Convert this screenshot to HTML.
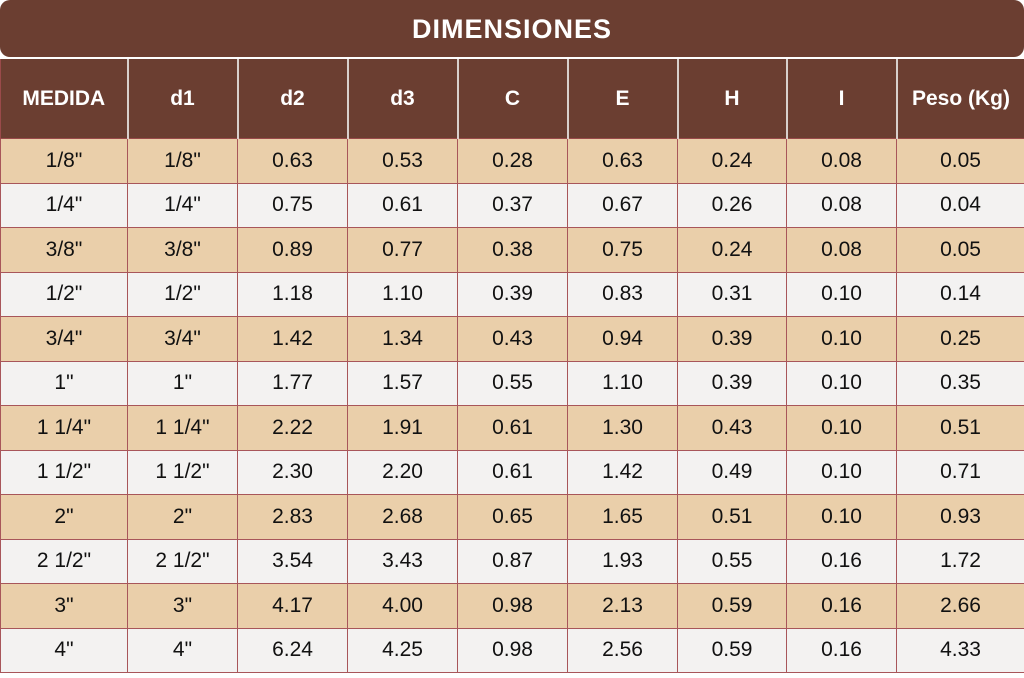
<!DOCTYPE html>
<html><head><meta charset="utf-8"><style>
html,body{margin:0;padding:0;background:#fff;width:1024px;height:678px;overflow:hidden}
.title{position:absolute;left:0;top:0;width:1024px;height:57px;background:#6b3e31;border-radius:10px 10px 10px 10px;color:#fff;font:bold 27px "Liberation Sans Narrow","Liberation Sans",sans-serif;text-align:center;line-height:58px;letter-spacing:1px}
table{position:absolute;left:0;top:59px;border-collapse:collapse;table-layout:fixed;width:1024px}
td,th{padding:0;text-align:center;font-family:"Liberation Sans",sans-serif}
th{background:#6b3e31;color:#fff;height:79px;font:bold 21px "Liberation Sans Narrow","Liberation Sans",sans-serif;border-left:2px solid #d8d0cc;border-bottom:1px solid #9a4a4a}
th:first-child{border-left:1px solid #9a4a4a}
td{height:43.5px;font-size:21px;color:#111;border:1px solid #a8565a}
tr:nth-child(even) td{background:#eacfaa}
tr:nth-child(odd) td{background:#f3f2f1}
</style></head><body>
<div class="title">DIMENSIONES</div>
<table>
<colgroup><col style="width:127px"><col style="width:110px"><col style="width:110px"><col style="width:110px"><col style="width:110px"><col style="width:110px"><col style="width:109px"><col style="width:110px"><col style="width:128px"></colgroup>
<tr><th>MEDIDA</th><th>d1</th><th>d2</th><th>d3</th><th>C</th><th>E</th><th>H</th><th>I</th><th>Peso (Kg)</th></tr>
<tr><td>1/8"</td><td>1/8"</td><td>0.63</td><td>0.53</td><td>0.28</td><td>0.63</td><td>0.24</td><td>0.08</td><td>0.05</td></tr>
<tr><td>1/4"</td><td>1/4"</td><td>0.75</td><td>0.61</td><td>0.37</td><td>0.67</td><td>0.26</td><td>0.08</td><td>0.04</td></tr>
<tr><td>3/8"</td><td>3/8"</td><td>0.89</td><td>0.77</td><td>0.38</td><td>0.75</td><td>0.24</td><td>0.08</td><td>0.05</td></tr>
<tr><td>1/2"</td><td>1/2"</td><td>1.18</td><td>1.10</td><td>0.39</td><td>0.83</td><td>0.31</td><td>0.10</td><td>0.14</td></tr>
<tr><td>3/4"</td><td>3/4"</td><td>1.42</td><td>1.34</td><td>0.43</td><td>0.94</td><td>0.39</td><td>0.10</td><td>0.25</td></tr>
<tr><td>1"</td><td>1"</td><td>1.77</td><td>1.57</td><td>0.55</td><td>1.10</td><td>0.39</td><td>0.10</td><td>0.35</td></tr>
<tr><td>1 1/4"</td><td>1 1/4"</td><td>2.22</td><td>1.91</td><td>0.61</td><td>1.30</td><td>0.43</td><td>0.10</td><td>0.51</td></tr>
<tr><td>1 1/2"</td><td>1 1/2"</td><td>2.30</td><td>2.20</td><td>0.61</td><td>1.42</td><td>0.49</td><td>0.10</td><td>0.71</td></tr>
<tr><td>2"</td><td>2"</td><td>2.83</td><td>2.68</td><td>0.65</td><td>1.65</td><td>0.51</td><td>0.10</td><td>0.93</td></tr>
<tr><td>2 1/2"</td><td>2 1/2"</td><td>3.54</td><td>3.43</td><td>0.87</td><td>1.93</td><td>0.55</td><td>0.16</td><td>1.72</td></tr>
<tr><td>3"</td><td>3"</td><td>4.17</td><td>4.00</td><td>0.98</td><td>2.13</td><td>0.59</td><td>0.16</td><td>2.66</td></tr>
<tr><td>4"</td><td>4"</td><td>6.24</td><td>4.25</td><td>0.98</td><td>2.56</td><td>0.59</td><td>0.16</td><td>4.33</td></tr>
</table>
</body></html>
